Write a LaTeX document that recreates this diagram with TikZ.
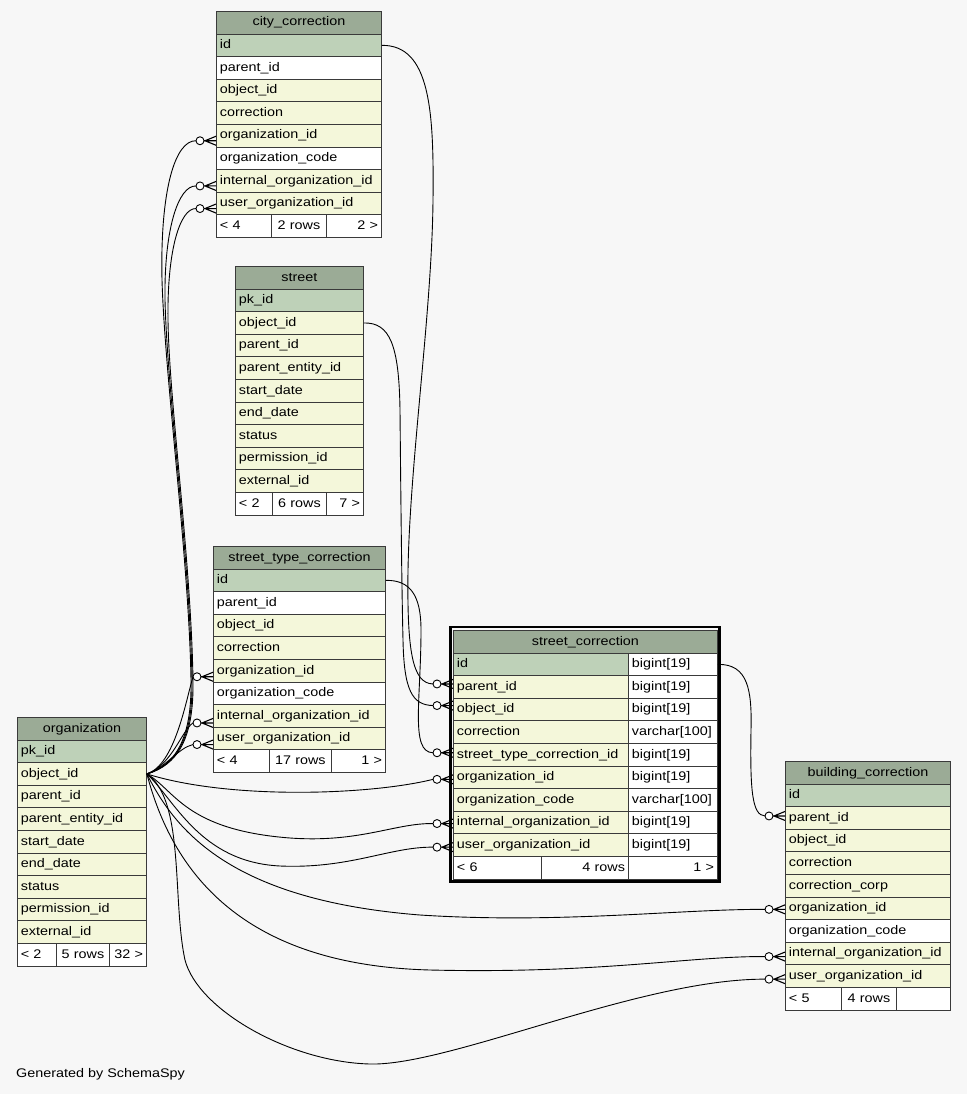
\documentclass[tikz,border=0pt]{standalone}
\usepackage{fontspec}
\setmainfont{Liberation Sans}[FakeStretch=1.15]

\definecolor{bgcol}{HTML}{F7F7F7}
\definecolor{headfill}{HTML}{9BAB96}
\definecolor{pkfill}{HTML}{BED1B8}
\definecolor{colfill}{HTML}{F4F7DA}
\definecolor{rowline}{HTML}{3A3A3A}

\newcommand\rowfont{\fontsize{12.5}{14}\selectfont}

% one table cell: name, left x, table top y, row index, width, style, text
\newcommand\trow[7]{%
  \pgfmathsetmacro\cellw{#5-7}%
  \pgfmathsetmacro\celly{#3+#4*22.6}%
  \node[cell,#6,minimum width=#5pt,text width=\cellw pt] (#1) at (#2,\celly) {#7};}

\tikzset{
  cell/.style={draw=rowline, line width=0.9pt, anchor=north west,
    minimum height=22.6pt, inner xsep=3.5pt, inner ysep=0pt,
    text height=9.5pt, text depth=3pt, align=left, font=\rowfont},
  head/.style={fill=headfill, align=center},
  pk/.style={fill=pkfill},
  col/.style={fill=colfill},
  plain/.style={fill=white},
  ctr/.style={fill=white, align=center},
  rgt/.style={fill=white, align=right},
  lft/.style={fill=white},
  fk/.style={draw=black, line width=0.9pt},
  crowodot/.pic={
    \draw[line width=0.9pt, fill=white] (-16,0) circle[radius=4pt];
    \draw[line width=1.1pt] (-12,0) -- (0,0)
      (-11,0) -- (0,-4.5) (-11,0) -- (0,4.5);
  }
}

\begin{document}
\begin{tikzpicture}[x=1pt, y=-1pt]
\fill[bgcol] (0,0) rectangle (967,1094);
\useasboundingbox (0,0) rectangle (967,1094);

% city_correction
\trow{cc-title}{216}{11}{0}{165}{head}{city\_correction}
\trow{cc-id}{216}{11}{1}{165}{pk}{id}
\trow{cc-parent}{216}{11}{2}{165}{plain}{parent\_id}
\trow{cc-object}{216}{11}{3}{165}{col}{object\_id}
\trow{cc-corr}{216}{11}{4}{165}{col}{correction}
\trow{cc-org}{216}{11}{5}{165}{col}{organization\_id}
\trow{cc-orgcode}{216}{11}{6}{165}{plain}{organization\_code}
\trow{cc-iorg}{216}{11}{7}{165}{col}{internal\_organization\_id}
\trow{cc-uorg}{216}{11}{8}{165}{col}{user\_organization\_id}
\trow{cc-f1}{216}{11}{9}{55}{lft}{< 4}
\trow{cc-f2}{271}{11}{9}{55}{ctr}{2 rows}
\trow{cc-f3}{326}{11}{9}{55}{rgt}{2 >}

% street
\trow{st-title}{235}{266}{0}{128}{head}{street}
\trow{st-pk}{235}{266}{1}{128}{pk}{pk\_id}
\trow{st-object}{235}{266}{2}{128}{col}{object\_id}
\trow{st-parent}{235}{266}{3}{128}{col}{parent\_id}
\trow{st-pentity}{235}{266}{4}{128}{col}{parent\_entity\_id}
\trow{st-start}{235}{266}{5}{128}{col}{start\_date}
\trow{st-end}{235}{266}{6}{128}{col}{end\_date}
\trow{st-status}{235}{266}{7}{128}{col}{status}
\trow{st-perm}{235}{266}{8}{128}{col}{permission\_id}
\trow{st-ext}{235}{266}{9}{128}{col}{external\_id}
\trow{st-f1}{235}{266}{10}{37}{lft}{< 2}
\trow{st-f2}{272}{266}{10}{54}{ctr}{6 rows}
\trow{st-f3}{326}{266}{10}{37}{rgt}{7 >}

% street_type_correction
\trow{stc-title}{213}{546}{0}{172}{head}{street\_type\_correction}
\trow{stc-id}{213}{546}{1}{172}{pk}{id}
\trow{stc-parent}{213}{546}{2}{172}{plain}{parent\_id}
\trow{stc-object}{213}{546}{3}{172}{col}{object\_id}
\trow{stc-corr}{213}{546}{4}{172}{col}{correction}
\trow{stc-org}{213}{546}{5}{172}{col}{organization\_id}
\trow{stc-orgcode}{213}{546}{6}{172}{plain}{organization\_code}
\trow{stc-iorg}{213}{546}{7}{172}{col}{internal\_organization\_id}
\trow{stc-uorg}{213}{546}{8}{172}{col}{user\_organization\_id}
\trow{stc-f1}{213}{546}{9}{56}{lft}{< 4}
\trow{stc-f2}{269}{546}{9}{62}{ctr}{17 rows}
\trow{stc-f3}{331}{546}{9}{54}{rgt}{1 >}

% organization
\trow{org-title}{17}{717}{0}{129}{head}{organization}
\trow{org-pk}{17}{717}{1}{129}{pk}{pk\_id}
\trow{org-object}{17}{717}{2}{129}{col}{object\_id}
\trow{org-parent}{17}{717}{3}{129}{col}{parent\_id}
\trow{org-pentity}{17}{717}{4}{129}{col}{parent\_entity\_id}
\trow{org-start}{17}{717}{5}{129}{col}{start\_date}
\trow{org-end}{17}{717}{6}{129}{col}{end\_date}
\trow{org-status}{17}{717}{7}{129}{col}{status}
\trow{org-perm}{17}{717}{8}{129}{col}{permission\_id}
\trow{org-ext}{17}{717}{9}{129}{col}{external\_id}
\trow{org-f1}{17}{717}{10}{39}{lft}{< 2}
\trow{org-f2}{56}{717}{10}{53}{ctr}{5 rows}
\trow{org-f3}{109}{717}{10}{37}{rgt}{32 >}

% street_correction (selected table, with column types)
\trow{sc-title}{453}{630}{0}{264}{head}{street\_correction}
\trow{sc-id}{453}{630}{1}{175}{pk}{id}
\trow{sc-idt}{628}{630}{1}{89}{plain}{bigint[19]}
\trow{sc-parent}{453}{630}{2}{175}{col}{parent\_id}
\trow{sc-parentt}{628}{630}{2}{89}{plain}{bigint[19]}
\trow{sc-object}{453}{630}{3}{175}{col}{object\_id}
\trow{sc-objectt}{628}{630}{3}{89}{plain}{bigint[19]}
\trow{sc-corr}{453}{630}{4}{175}{col}{correction}
\trow{sc-corrt}{628}{630}{4}{89}{plain}{varchar[100]}
\trow{sc-stcid}{453}{630}{5}{175}{col}{street\_type\_correction\_id}
\trow{sc-stcidt}{628}{630}{5}{89}{plain}{bigint[19]}
\trow{sc-org}{453}{630}{6}{175}{col}{organization\_id}
\trow{sc-orgt}{628}{630}{6}{89}{plain}{bigint[19]}
\trow{sc-orgcode}{453}{630}{7}{175}{col}{organization\_code}
\trow{sc-orgcodet}{628}{630}{7}{89}{plain}{varchar[100]}
\trow{sc-iorg}{453}{630}{8}{175}{col}{internal\_organization\_id}
\trow{sc-iorgt}{628}{630}{8}{89}{plain}{bigint[19]}
\trow{sc-uorg}{453}{630}{9}{175}{col}{user\_organization\_id}
\trow{sc-uorgt}{628}{630}{9}{89}{plain}{bigint[19]}
\trow{sc-f1}{453}{630}{10}{88}{lft}{< 6}
\trow{sc-f2}{541}{630}{10}{87}{rgt}{4 rows}
\trow{sc-f3}{628}{630}{10}{89}{rgt}{1 >}
\draw[line width=2.6pt, black] (450.5,627) rectangle (719.5,881.5);

% building_correction
\trow{bc-title}{785}{761}{0}{165}{head}{building\_correction}
\trow{bc-id}{785}{761}{1}{165}{pk}{id}
\trow{bc-parent}{785}{761}{2}{165}{col}{parent\_id}
\trow{bc-object}{785}{761}{3}{165}{col}{object\_id}
\trow{bc-corr}{785}{761}{4}{165}{col}{correction}
\trow{bc-corrcorp}{785}{761}{5}{165}{col}{correction\_corp}
\trow{bc-org}{785}{761}{6}{165}{col}{organization\_id}
\trow{bc-orgcode}{785}{761}{7}{165}{plain}{organization\_code}
\trow{bc-iorg}{785}{761}{8}{165}{col}{internal\_organization\_id}
\trow{bc-uorg}{785}{761}{9}{165}{col}{user\_organization\_id}
\trow{bc-f1}{785}{761}{10}{56}{lft}{< 5}
\trow{bc-f2}{841}{761}{10}{55}{ctr}{4 rows}
\trow{bc-f3}{896}{761}{10}{54}{rgt}{}

% foreign keys between tables
\draw[fk] (cc-id.east) .. controls (430,45) and (434,110) .. (433,200)
  .. controls (432,310) and (410,460) .. (408,570)
  .. controls (407,650) and (412,683.5) .. ([xshift=-20pt,yshift=3pt]sc-parent.west);
\pic at ([yshift=3pt]sc-parent.west) {crowodot};

\draw[fk] (st-object.east) .. controls (390,322.5) and (399,345) .. (400,410)
  .. controls (401,520) and (402,600) .. (403,640)
  .. controls (404,690) and (412,705) .. ([xshift=-20pt,yshift=4pt]sc-object.west);
\pic at ([yshift=4pt]sc-object.west) {crowodot};

\draw[fk] (stc-id.east) .. controls (410,580) and (421,595) .. (421,630)
  .. controls (421,700) and (410,752.3) .. ([xshift=-20pt,yshift=2pt]sc-stcid.west);
\pic at ([yshift=2pt]sc-stcid.west) {crowodot};

\draw[fk] (sc-idt.east) .. controls (748,664) and (752,690) .. (751,730)
  .. controls (750,790) and (752,815.5) .. ([xshift=-20pt,yshift=2pt]bc-parent.west);
\pic at ([yshift=2pt]bc-parent.west) {crowodot};

% organization.object_id references
\draw[fk] (org-object.east) .. controls (175,765) and (192,740) .. (191,680)
  .. controls (189,560) and (165,380) .. (162,280)
  .. controls (160,190) and (175,140.3) .. ([xshift=-20pt,yshift=-5pt]cc-org.west);
\pic at ([yshift=-5pt]cc-org.west) {crowodot};
\draw[fk] (org-object.east) .. controls (176,765) and (193,740) .. (192,680)
  .. controls (190,560) and (167,390) .. (165,300)
  .. controls (164,230) and (178,185.5) .. ([xshift=-20pt,yshift=-5pt]cc-iorg.west);
\pic at ([yshift=-5pt]cc-iorg.west) {crowodot};
\draw[fk] (org-object.east) .. controls (177,765) and (194,740) .. (193,680)
  .. controls (191,560) and (169,400) .. (168,320)
  .. controls (167,250) and (180,208.1) .. ([xshift=-20pt,yshift=-5pt]cc-uorg.west);
\pic at ([yshift=-5pt]cc-uorg.west) {crowodot};

\draw[fk] (org-object.east) .. controls (175,765) and (186,700) .. ([xshift=-20pt,yshift=-6pt]stc-org.west);
\pic at ([yshift=-6pt]stc-org.west) {crowodot};
\draw[fk] (org-object.east) .. controls (172,765) and (182,730) .. ([xshift=-20pt,yshift=-7pt]stc-iorg.west);
\pic at ([yshift=-7pt]stc-iorg.west) {crowodot};
\draw[fk] (org-object.east) .. controls (168,766) and (178,748) .. ([xshift=-20pt,yshift=-6pt]stc-uorg.west);
\pic at ([yshift=-6pt]stc-uorg.west) {crowodot};

\draw[fk] (org-object.east) .. controls (230,800) and (370,795) .. ([xshift=-20pt,yshift=-2pt]sc-org.west);
\pic at ([yshift=-2pt]sc-org.west) {crowodot};
\draw[fk] (org-object.east) .. controls (175,790) and (185,830) .. (290,838)
  .. controls (360,843) and (395,823) .. ([xshift=-20pt,yshift=-1pt]sc-iorg.west);
\pic at ([yshift=-1pt]sc-iorg.west) {crowodot};
\draw[fk] (org-object.east) .. controls (175,800) and (200,862) .. (280,866)
  .. controls (350,869) and (390,846.7) .. ([xshift=-20pt,yshift=-2pt]sc-uorg.west);
\pic at ([yshift=-2pt]sc-uorg.west) {crowodot};

\draw[fk] (org-object.east) .. controls (175,830) and (230,900) .. (420,915)
  .. controls (560,924) and (680,909) .. ([xshift=-20pt,yshift=-1pt]bc-org.west);
\pic at ([yshift=-1pt]bc-org.west) {crowodot};
\draw[fk] (org-object.east) .. controls (172,870) and (240,965) .. (430,970)
  .. controls (600,974) and (690,956) .. ([xshift=-20pt,yshift=-3pt]bc-iorg.west);
\pic at ([yshift=-3pt]bc-iorg.west) {crowodot};
\draw[fk] (org-object.east) .. controls (185,800) and (172,900) .. (185,960)
  .. controls (198,1010) and (290,1062) .. (370,1064)
  .. controls (450,1066) and (640,978.7) .. ([xshift=-20pt,yshift=-3pt]bc-uorg.west);
\pic at ([yshift=-3pt]bc-uorg.west) {crowodot};

\node[anchor=west, font=\rowfont, inner sep=0pt] (credit) at (16,1074) {Generated by SchemaSpy};
\end{tikzpicture}
\end{document}
